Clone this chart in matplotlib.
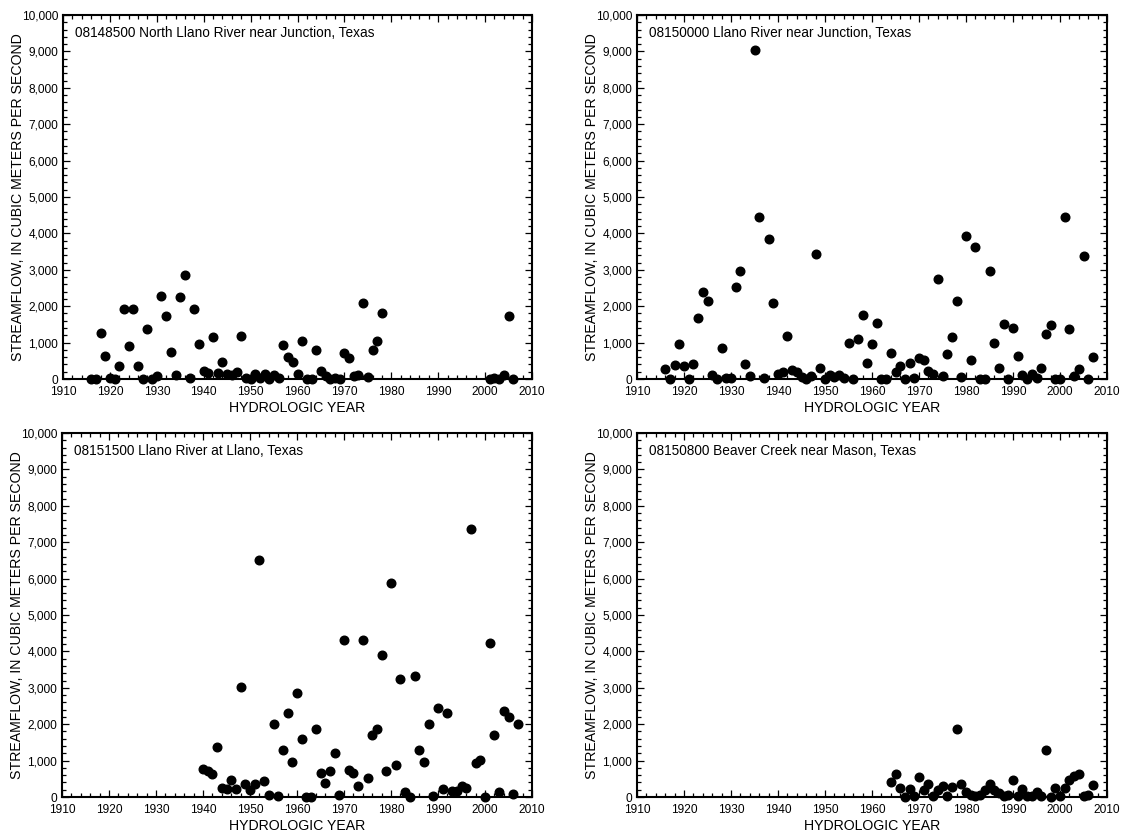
import matplotlib
matplotlib.use("Agg")
import matplotlib.pyplot as plt
import matplotlib.ticker as ticker

plt.rcParams['font.family'] = ['Liberation Sans', 'DejaVu Sans']

# annual peak streamflow, cubic meters per second
north_llano_years = list(range(1916, 1979)) + list(range(2001, 2007))
north_llano_flow = [0, 0, 1255, 620, 30, 0, 365, 1930, 910, 1930,
                    365, 0, 1380, 0, 90, 2290, 1730, 730, 110, 2260,
                    2860, 20, 1910, 965, 220, 165, 1145, 165, 455, 145,
                    110, 200, 1180, 35, 0, 125, 35, 145, 0, 110,
                    20, 925, 600, 455, 145, 1055, 0, 0, 800, 225,
                    70, 0, 35, 0, 710, 580, 90, 110, 2080, 55,
                    800, 1035, 1800,
                    0, 20, 0, 110, 1730, 0]

llano_junction_years = list(range(1916, 2008))
llano_junction_flow = [275, 0, 375, 970, 350, 0, 420, 1670, 2385, 2150,
                       110, 0, 860, 20, 35, 2515, 2970, 405, 90, 9045,
                       4460, 20, 3855, 2075, 130, 185, 1175, 240, 200, 55,
                       0, 90, 3430, 310, 0, 110, 55, 110, 35, 1000,
                       0, 1110, 1770, 450, 965, 1540, 0, 10, 705, 185,
                       365, 0, 430, 20, 580, 515, 220, 145, 2745, 75,
                       690, 1145, 2145, 55, 3915, 520, 3625, 0, 0, 2980,
                       1000, 310, 1505, 0, 1395, 640, 120, 0, 140, 35,
                       295, 1230, 1470, 0, 0, 4460, 1375, 75, 275, 3375,
                       0, 615]

llano_llano_years = list(range(1940, 2008))
llano_llano_flow = [765, 710, 620, 1380, 255, 220, 475, 220, 3010, 365,
                    180, 345, 6510, 435, 55, 2000, 20, 1290, 2320, 965,
                    2865, 1580, 0, 0, 1855, 655, 380, 725, 1220, 55,
                    4310, 745, 655, 290, 4310, 510, 1710, 1865, 3890, 710,
                    5890, 890, 3245, 125, 0, 3320, 1290, 965, 2000, 35,
                    2445, 225, 2320, 165, 165, 310, 235, 7360, 945, 1020,
                    0, 4220, 1710, 135, 2365, 2210, 90, 2010]

beaver_creek_years = list(range(1964, 2008))
beaver_creek_flow = [415, 635, 240, 0, 220, 35, 550, 200, 365, 35,
                     200, 295, 35, 275, 1880, 365, 130, 65, 20, 65,
                     200, 365, 200, 110, 20, 65, 460, 20, 230, 35,
                     35, 130, 20, 1285, 0, 250, 35, 240, 460, 570,
                     635, 20, 65, 340]

titles = ["08148500 North Llano River near Junction, Texas",
          "08150000 Llano River near Junction, Texas",
          "08151500 Llano River at Llano, Texas",
          "08150800 Beaver Creek near Mason, Texas"]

W, H = 1127, 836
# left, top, width, height in pixels from the top-left corner
boxes = [(63, 15, 469, 364), (637, 15, 470, 364),
         (62, 433, 470, 364), (637, 433, 470, 364)]

fig = plt.figure(figsize=(W / 100, H / 100), dpi=100)


def draw_panel(box, years, flow, title):
    x0, y0, w, h = box
    ax = fig.add_axes([x0 / W, 1 - (y0 + h) / H, w / W, h / H])
    ax.plot(years, flow, linestyle='none', marker='o', markersize=6.2,
            color='black', clip_on=False, zorder=3)
    ax.set_xlim(1910, 2010)
    ax.set_ylim(0, 10000)
    ax.xaxis.set_major_locator(ticker.MultipleLocator(10))
    ax.xaxis.set_minor_locator(ticker.MultipleLocator(2))
    ax.yaxis.set_major_locator(ticker.MultipleLocator(1000))
    ax.yaxis.set_minor_locator(ticker.MultipleLocator(200))
    ax.yaxis.set_major_formatter(ticker.FuncFormatter(lambda v, p: '{:,.0f}'.format(v)))
    ax.tick_params(which='both', direction='in', top=True, right=True,
                   width=0.9, labelsize=8.6, color='black')
    ax.tick_params(which='major', length=5)
    ax.tick_params(which='minor', length=3)
    ax.tick_params(axis='x', pad=5)
    ax.tick_params(axis='y', pad=3.5)
    for s in ax.spines.values():
        s.set_linewidth(1.5)
    ax.set_xlabel("HYDROLOGIC YEAR", fontsize=10.2, va='top')
    ax.xaxis.set_label_coords(0.5, -22.0 / h)
    ax.set_ylabel("STREAMFLOW, IN CUBIC METERS PER SECOND", fontsize=10.2)
    ax.yaxis.set_label_coords(-38.0 / w, 0.5)
    ax.text(0.025, 0.95, title, transform=ax.transAxes, fontsize=9.8,
            ha='left', va='center')
    return ax


draw_panel(boxes[0], north_llano_years, north_llano_flow, titles[0])
draw_panel(boxes[1], llano_junction_years, llano_junction_flow, titles[1])
draw_panel(boxes[2], llano_llano_years, llano_llano_flow, titles[2])
draw_panel(boxes[3], beaver_creek_years, beaver_creek_flow, titles[3])

fig.savefig("out.png", dpi=100)
